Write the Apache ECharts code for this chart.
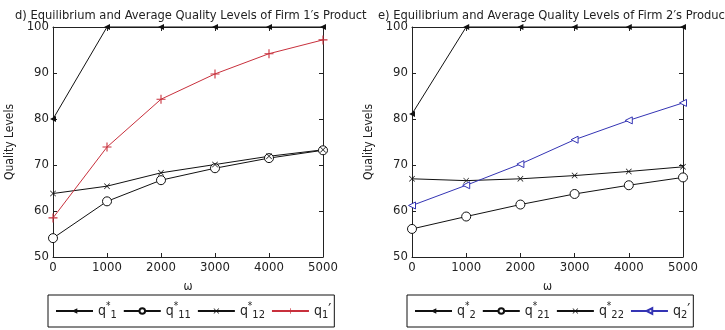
<!DOCTYPE html>
<html>
<head>
<meta charset="utf-8">
<script src="https://cdn.jsdelivr.net/npm/echarts@6/dist/echarts.min.js"></script>
<style>
  html, body { margin: 0; padding: 0; background: #fff; }
  #chart { width: 725px; height: 330px; }
</style>
</head>
<body>
<div id="chart"></div>
<script>
// ω values on the horizontal axis
const omega = [0, 1000, 2000, 3000, 4000, 5000];
const yTicks = [50, 60, 70, 80, 90, 100];

// Firm 1
const q1Star = [80.0, 100, 100, 100, 100, 100];
const q11Star = [54.1, 62.1, 66.7, 69.3, 71.5, 73.2];
const q12Star = [63.8, 65.4, 68.3, 70.1, 71.9, 73.3];
const q1Avg = [58.5, 73.9, 84.3, 89.8, 94.2, 97.2];

// Firm 2
const q2Star = [81.1, 100, 100, 100, 100, 100];
const q21Star = [56.1, 58.8, 61.4, 63.7, 65.6, 67.3];
const q22Star = [67.0, 66.6, 67.0, 67.7, 68.6, 69.6];
const q2Avg = [61.2, 65.6, 70.2, 75.5, 79.7, 83.5];

const FONT = '"DejaVu Sans Condensed", "Liberation Sans", Arial, sans-serif';
const INK = '#222';
const RED = '#c8303c';
const BLUE = '#3434b4';

const TRI_LEFT = 'path://M0,5L10,0L10,10Z';
const PLUS = 'path://M0,4.4H10V5.6H0Z M4.4,0H5.6V10H4.4Z';
const CROSS = 'path://M0.8,0L5,4.2L9.2,0L10,0.8L5.8,5L10,9.2L9.2,10L5,5.8L0.8,10L0,9.2L4.2,5L0,0.8Z';

const pairs = vals => omega.map((w, i) => [w, vals[i]]);

const grids = [
  { left: 53, width: 270, top: 27, height: 230 },
  { left: 412, width: 271, top: 27, height: 230 }
];

const xAxes = [];
const yAxes = [];
grids.forEach((g, i) => {
  const common = { gridIndex: i, type: 'value', splitLine: { show: false },
    axisLine: { show: true, onZero: false, lineStyle: { color: INK, width: 1 } },
    axisTick: { show: true, inside: true, length: 4, lineStyle: { color: INK } } };
  xAxes.push(Object.assign({}, common, {
    position: 'bottom', min: omega[0], max: omega[omega.length - 1], interval: 1000,
    axisLabel: { color: INK, fontSize: 13, fontFamily: FONT, margin: 4, formatter: v => String(v) },
    name: 'ω', nameLocation: 'middle', nameGap: 24,
    nameTextStyle: { color: INK, fontSize: 12, fontFamily: FONT }
  }));
  xAxes.push(Object.assign({}, common, {
    position: 'top', min: omega[0], max: omega[omega.length - 1], interval: 1000,
    axisLabel: { show: false }
  }));
  yAxes.push(Object.assign({}, common, {
    position: 'left', min: yTicks[0], max: yTicks[yTicks.length - 1], interval: 10,
    axisLabel: { color: INK, fontSize: 13, fontFamily: FONT, margin: 4 },
    name: 'Quality Levels', nameLocation: 'middle', nameGap: 37,
    nameTextStyle: { color: INK, fontSize: 12, fontFamily: FONT }
  }));
  yAxes.push(Object.assign({}, common, {
    position: 'right', min: yTicks[0], max: yTicks[yTicks.length - 1], interval: 10,
    axisLabel: { show: false }
  }));
});

function lineSeries(name, vals, gi, color, symbol, size, fill) {
  return {
    name, type: 'line', xAxisIndex: gi * 2, yAxisIndex: gi * 2,
    data: pairs(vals), clip: false, symbol, symbolSize: size, showSymbol: true,
    lineStyle: { color, width: 1 },
    itemStyle: { color: fill, borderColor: color, borderWidth: fill === color ? 0 : 1 },
    emphasis: { disabled: true }, animation: false
  };
}

const series = [
  lineSeries('q1*', q1Star, 0, '#111', TRI_LEFT, [6, 6], '#111'),
  lineSeries('q11*', q11Star, 0, '#111', 'circle', 9, '#fff'),
  lineSeries('q12*', q12Star, 0, '#111', CROSS, 6, '#111'),
  lineSeries('q1′', q1Avg, 0, RED, PLUS, 9, RED),
  lineSeries('q2*', q2Star, 1, '#111', TRI_LEFT, [6, 6], '#111'),
  lineSeries('q21*', q21Star, 1, '#111', 'circle', 9, '#fff'),
  lineSeries('q22*', q22Star, 1, '#111', CROSS, 6, '#111'),
  lineSeries('q2′', q2Avg, 1, BLUE, TRI_LEFT, [7, 7], '#fff')
];

// Legend labels: q with a subscript index and a star / prime mark
const legendText = {
  'q1*': '{q|q}{sup|*}{sub|1}',
  'q11*': '{q|q}{sup|*}{sub|11}',
  'q12*': '{q|q}{sup|*}{sub|12}',
  'q1′': '{q|q}{sub|1}{pr|′}',
  'q2*': '{q|q}{sup|*}{sub|2}',
  'q21*': '{q|q}{sup|*}{sub|21}',
  'q22*': '{q|q}{sup|*}{sub|22}',
  'q2′': '{q|q}{sub|2}{pr|′}'
};
const rich = {
  q: { fontSize: 14, fontFamily: FONT, color: INK, lineHeight: 20, verticalAlign: 'middle' },
  sub: { fontSize: 11, fontFamily: FONT, color: INK, lineHeight: 20, verticalAlign: 'bottom' },
  sup: { fontSize: 10, fontFamily: FONT, color: INK, lineHeight: 20, verticalAlign: 'top' },
  pr: { fontSize: 15, fontFamily: FONT, color: INK, lineHeight: 20, verticalAlign: 'middle' }
};

function legend(names, left) {
  return {
    data: names, left, top: 295, orient: 'horizontal',
    itemWidth: 37, itemHeight: 7, itemGap: 6,
    padding: [6, 3, 6, 7],
    borderColor: '#111', borderWidth: 1, backgroundColor: '#fff',
    selectedMode: false,
    formatter: n => legendText[n],
    textStyle: { rich, padding: [0, 0, 0, 0] }
  };
}

const chart = echarts.init(document.getElementById('chart'), null, { renderer: 'canvas' });
chart.setOption({
  backgroundColor: '#fff',
  animation: false,
  title: [
    { text: 'd) Equilibrium and Average Quality Levels of Firm 1′s Product', left: 10, top: 4,
      textStyle: { fontSize: 12.8, fontWeight: 'normal', color: INK, fontFamily: FONT } },
    { text: 'e) Equilibrium and Average Quality Levels of Firm 2′s Product', left: 373, top: 4,
      textStyle: { fontSize: 12.8, fontWeight: 'normal', color: INK, fontFamily: FONT } }
  ],
  grid: grids,
  xAxis: xAxes,
  yAxis: yAxes,
  legend: [
    legend(['q1*', 'q11*', 'q12*', 'q1′'], 48),
    legend(['q2*', 'q21*', 'q22*', 'q2′'], 407)
  ],
  series
});
</script>
</body>
</html>
